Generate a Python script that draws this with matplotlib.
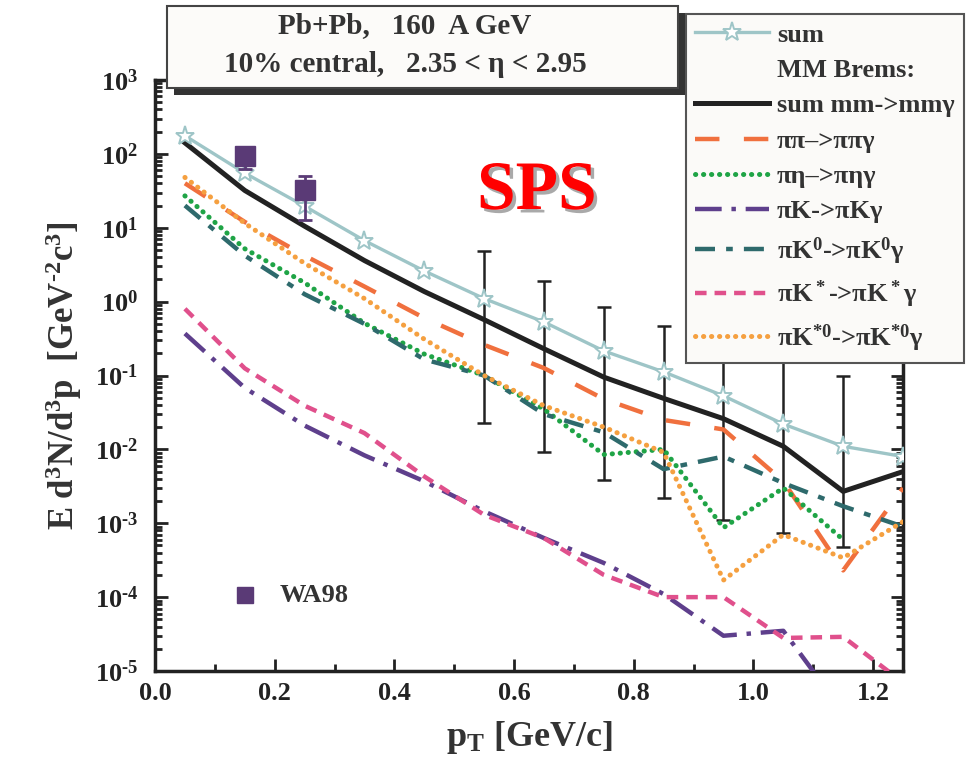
import numpy as np
import matplotlib
matplotlib.use("Agg")
import matplotlib.pyplot as plt
import matplotlib.patheffects as pe
from matplotlib.patches import Rectangle
from matplotlib.lines import Line2D
from matplotlib.ticker import LogLocator, MultipleLocator, FuncFormatter, NullFormatter

plt.rcParams["font.family"] = ["Liberation Serif", "DejaVu Serif"]
plt.rcParams["font.weight"] = "bold"
plt.rcParams["axes.labelweight"] = "bold"
plt.rcParams["axes.unicode_minus"] = False
plt.rcParams["mathtext.fontset"] = "custom"
plt.rcParams["mathtext.rm"] = "Liberation Serif:bold"
plt.rcParams["mathtext.bf"] = "Liberation Serif:bold"
plt.rcParams["mathtext.it"] = "Liberation Serif:bold"
plt.rcParams["mathtext.default"] = "rm"

# ---- data ----
pt = [0.05, 0.15, 0.25, 0.35, 0.45, 0.55, 0.65, 0.75, 0.85, 0.95, 1.05, 1.15, 1.25]
sum_all = [176, 55, 19.6, 6.7, 2.6, 1.1, 0.53, 0.215, 0.112, 0.053, 0.022, 0.011, 0.0080]
sum_mm = [141, 32, 10.5, 3.6, 1.37, 0.57, 0.23, 0.095, 0.049, 0.026, 0.011, 0.0027, 0.005]
pipi = [40, 12, 4.2, 1.6, 0.6, 0.26, 0.126, 0.048, 0.025, 0.0186, 0.0037, 0.00023, 0.003]
pieta = [27, 5.2, 1.8, 0.51, 0.195, 0.1, 0.035, 0.0085, 0.010, 0.00087, 0.003, 0.0006]
piK = [0.37, 0.068, 0.021, 0.0083, 0.0037, 0.00145, 0.00063, 0.00029, 0.00011,
       3.0e-5, 3.5e-5, 2.8e-6]
piK0 = [20, 4.2, 1.26, 0.5, 0.165, 0.1, 0.030, 0.017, 0.0054, 0.008, 0.0035, 0.0017, 0.0009]
piKs = [0.8, 0.125, 0.039, 0.0166, 0.0043, 0.0013, 0.00063, 0.0002, 0.0001, 0.0001,
        2.8e-5, 2.9e-5, 7e-6]
piKs0 = [48, 11.5, 3.3, 1.1, 0.31, 0.1, 0.039, 0.02, 0.0091, 0.00017, 0.0007, 0.00034, 0.00105]

wa98_pt = [0.15, 0.25]
wa98_val = [95, 32]
wa98_lo = [62, 12.6]
wa98_hi = [125, 50]

err_pt = [0.55, 0.65, 0.75, 0.85, 0.95, 1.05, 1.15]
err_lo = [0.023, 0.0091, 0.0039, 0.0022, 0.0011, 0.00074, 0.00048]
err_hi = [4.9, 1.9, 0.85, 0.47, 0.3, 0.2, 0.1]

SUM_C = "#9ec5c7"
BLACK = "#222222"
ORANGE = "#f0703e"
GREEN = "#1fa446"
PURPLE = "#5e3f8c"
TEAL = "#2e6a6c"
PINK = "#e0508c"
LORANGE = "#f5a040"
WA98_C = "#5a3a76"
DOTS = (0, (0.05, 1.55))

W, H = 973, 767
fig = plt.figure(figsize=(W / 100, H / 100), dpi=100, facecolor="white")
ax = fig.add_axes([155 / W, 1 - 671 / H, (903 - 155) / W, (671 - 80) / H])

# error bars without central markers
err_c = np.sqrt(np.array(err_lo) * np.array(err_hi))
ax.errorbar(err_pt, err_c, yerr=[err_c - np.array(err_lo), np.array(err_hi) - err_c],
            fmt="none", ecolor=BLACK, elinewidth=1.8, capsize=5, capthick=1.8, zorder=1.5)

h_sum, = ax.plot(pt, sum_all, color=SUM_C, lw=2.4, marker="*", ms=14, mfc="white",
                 mec=SUM_C, mew=1.4, zorder=5)
h_mm, = ax.plot(pt, sum_mm, color=BLACK, lw=3.6, zorder=4)
h_pipi, = ax.plot(pt, pipi, color=ORANGE, lw=3.2, ls=(0, (5.5, 5.5)), zorder=3)
h_pieta, = ax.plot(pt[:len(pieta)], pieta, color=GREEN, lw=3.6, ls=DOTS,
                   dash_capstyle="round", zorder=3)
h_piK, = ax.plot(pt[:len(piK)], piK, color=PURPLE, lw=3.2, ls=(0, (6, 2.2, 1, 2.2)),
                 zorder=3)
h_piK0, = ax.plot(pt, piK0, color=TEAL, lw=3.2, ls=(0, (4.5, 2.5, 1.5, 2.5)), zorder=3)
h_piKs, = ax.plot(pt, piKs, color=PINK, lw=3.2, ls=(0, (2.6, 1.8)), zorder=3)
h_piKs0, = ax.plot(pt, piKs0, color=LORANGE, lw=3.6, ls=DOTS,
                   dash_capstyle="round", zorder=3)

ax.errorbar(wa98_pt, wa98_val,
            yerr=[np.array(wa98_val) - np.array(wa98_lo), np.array(wa98_hi) - np.array(wa98_val)],
            fmt="s", color=WA98_C, ms=14, ecolor=WA98_C, elinewidth=2, capsize=5, capthick=2,
            zorder=6)

ax.set_yscale("log")
ax.set_xlim(0, 1.25)
ax.set_ylim(1e-5, 1e3)


def log_label(v, _):
    n = int(round(np.log10(v)))
    exp = str(n).replace("-", "\u2010")
    return r"10$^{%s}$" % exp


ax.xaxis.set_major_locator(MultipleLocator(0.2))
ax.xaxis.set_minor_locator(MultipleLocator(0.1))
ax.xaxis.set_major_formatter(FuncFormatter(lambda v, _: f"{v:.1f}"))
ax.yaxis.set_major_locator(LogLocator(base=10, numticks=20))
ax.yaxis.set_minor_locator(LogLocator(base=10, subs=np.arange(2, 10), numticks=20))
ax.yaxis.set_minor_formatter(NullFormatter())
ax.yaxis.set_major_formatter(FuncFormatter(log_label))

ax.tick_params(which="both", direction="in", top=True, right=True, width=2, colors=BLACK)
ax.tick_params(which="major", length=9, labelsize=19)
ax.tick_params(which="minor", length=5)
ax.tick_params(axis="x", which="major", pad=8)
ax.tick_params(axis="y", which="major", pad=12)
for s in ax.spines.values():
    s.set_linewidth(2.5)
    s.set_color(BLACK)

ax.set_xlabel(r"p$_{\rm T}$ [GeV/c]", fontsize=26, fontweight="bold", labelpad=10,
              color="#333333")
ax.set_ylabel("E d$^3$N/d$^3$p  [GeV$^{\u20102}$c$^3$]", fontsize=25, fontweight="bold",
              labelpad=8, color="#333333")

# in-plot WA98 key
ax.plot([0.12], [0.128], "s", color=WA98_C, ms=11, transform=ax.transAxes, zorder=6)
ax.text(0.167, 0.128, "WA98", transform=ax.transAxes, fontsize=19, color="#333333",
        va="center", ha="left")

# SPS label
fig.text(537 / W, 1 - 192 / H, "SPS", color="red", fontsize=50, ha="center", va="center",
         path_effects=[pe.SimplePatchShadow(offset=(2.5, -2.5), shadow_rgbFace="#a0a0a0",
                                            alpha=0.9), pe.Normal()])

# legend
blank = Line2D([], [], color="none")
handles = [h_sum, blank, h_mm, h_pipi, h_pieta, h_piK, h_piK0, h_piKs, h_piKs0]
labels = ["sum", "MM Brems:", "sum mm->mm\u03b3", "\u03c0\u03c0\u2013>\u03c0\u03c0\u03b3",
          "\u03c0\u03b7\u2013>\u03c0\u03b7\u03b3", "\u03c0K->\u03c0K\u03b3",
          r"$\pi$K$^0$->$\pi$K$^0\gamma$", r"$\pi$K$^*$->$\pi$K$^*\gamma$",
          r"$\pi$K$^{*0}$->$\pi$K$^{*0}\gamma$"]
leg = ax.legend(handles, labels, loc="upper left", bbox_to_anchor=(686 / W, 1 - 14 / H),
                bbox_transform=fig.transFigure, borderaxespad=0, borderpad=0.35,
                fontsize=19, handlelength=2.8, handletextpad=0.3, labelspacing=0.45,
                fancybox=False, framealpha=1, facecolor="#fbfaf8", edgecolor="#555555",
                numpoints=1)
leg.get_frame().set_linewidth(1.5)
leg.set_zorder(20)
for t in leg.get_texts():
    t.set_color("#333333")

# title box with drop shadow
bx, by, bw, bh = 167, 6, 511, 82
fig.add_artist(Rectangle(((bx + 7) / W, 1 - (by + bh + 7) / H), bw / W, bh / H,
                         transform=fig.transFigure, facecolor="#333333", edgecolor="none",
                         zorder=30))
fig.add_artist(Rectangle((bx / W, 1 - (by + bh) / H), bw / W, bh / H,
                         transform=fig.transFigure, facecolor="#fcfbf9", edgecolor="#444444",
                         lw=1.5, zorder=31))
fig.text(405 / W, 1 - 26 / H, "Pb+Pb,   160  A GeV", fontsize=21, ha="center", va="center",
         color="#333333", zorder=32)
fig.text(405 / W, 1 - 64 / H, "10% central,   2.35 < \u03b7 < 2.95", fontsize=21,
         ha="center", va="center", color="#333333", zorder=32)

fig.savefig("out.png", dpi=100, facecolor="white")
